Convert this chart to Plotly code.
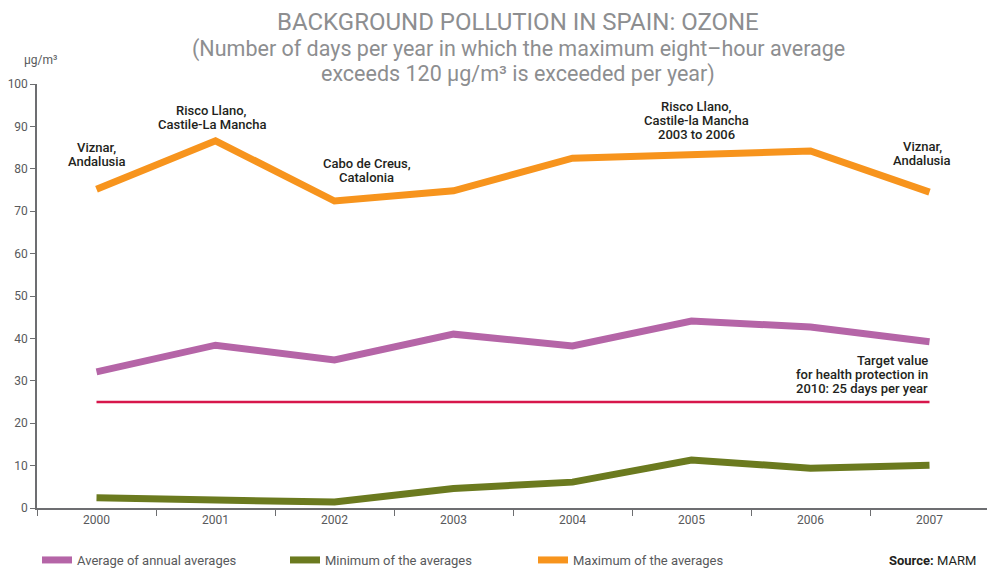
import plotly.graph_objects as go

years = [2000, 2001, 2002, 2003, 2004, 2005, 2006, 2007]
avg_of_averages = [32.1, 38.4, 34.9, 41.0, 38.2, 44.1, 42.7, 39.2]
min_of_averages = [2.4, 1.9, 1.4, 4.6, 6.1, 11.3, 9.4, 10.1]
max_of_averages = [75.2, 86.6, 72.4, 74.8, 82.5, 83.3, 84.2, 74.5]
target_value = 25
y_ticks = [0, 10, 20, 30, 40, 50, 60, 70, 80, 90, 100]

FONT = "Roboto"
AX = "#6d6e71"
TXT = "#231f20"
GREY = "#58595b"

# page body has an 8px margin: the figure is placed at (8, 8)
OFF = 8
W, H = 995 - OFF, 568 - OFF
L, R, T, B = 37 - OFF, 6, 84 - OFF, 568 - 508
pw, ph = W - L - R, H - T - B
def px(xr):
    return (xr - OFF - L) / pw
def py(yr):
    return (H - B - (yr - OFF)) / ph

fig = go.Figure()
fig.add_trace(go.Scatter(x=years, y=avg_of_averages, mode="lines",
                         name="Average of annual averages",
                         line=dict(color="#b565a7", width=7)))
fig.add_trace(go.Scatter(x=years, y=min_of_averages, mode="lines",
                         name="Minimum of the averages",
                         line=dict(color="#6b7a1f", width=7)))
fig.add_trace(go.Scatter(x=years, y=max_of_averages, mode="lines",
                         name="Maximum of the averages",
                         line=dict(color="#f7941d", width=7)))
fig.add_trace(go.Scatter(x=[years[0], years[-1]], y=[target_value, target_value],
                         mode="lines", showlegend=False,
                         line=dict(color="#d7164b", width=2.5)))

ann_font = dict(family=FONT, size=13, color=TXT, weight=500)
LINE_H = 14

def multiline(x, y, lines, xanchor="center"):
    n = len(lines)
    for i, s in enumerate(lines):
        shift = ((n - 1) / 2 - i) * LINE_H
        fig.add_annotation(x=x, y=y, text=s, showarrow=False, xref="x", yref="y",
                           xanchor=xanchor, yanchor="middle", yshift=shift, font=ann_font)

multiline(2000.0, 83.3, ["Viznar,", "Andalusia"])
multiline(2000.97, 92.2, ["Risco Llano,", "Castile-La Mancha"])
multiline(2002.27, 79.5, ["Cabo de Creus,", "Catalonia"])
multiline(2005.04, 91.3, ["Risco Llano,", "Castile-la Mancha", "2003 to 2006"])
multiline(2006.94, 83.7, ["Viznar,", "Andalusia"])
multiline(2007.0, 31.6, ["Target value", "for health protection in", "2010: 25 days per year"],
          xanchor="right")

def paper_text(xr, yr, text, font, xanchor="center"):
    fig.add_annotation(x=px(xr), y=py(yr), xref="paper", yref="paper", text=text,
                       showarrow=False, xanchor=xanchor, yanchor="middle", font=font)

title_font = dict(family=FONT, size=24, color="#8d8e90")
sub_font = dict(family=FONT, size=21.5, color="#8d8e90")
paper_text(518, 22, "BACKGROUND POLLUTION IN SPAIN: OZONE", title_font)
paper_text(518, 49, "(Number of days per year in which the maximum eight–hour average", sub_font)
paper_text(518, 74, "exceeds 120 µg/m³ is exceeded per year)", sub_font)
paper_text(40, 60, "µg/m³", dict(family=FONT, size=12, color=GREY))
paper_text(978, 560, "<b>Source:</b> MARM", dict(family=FONT, size=13, color=TXT), xanchor="right")

fig.update_layout(
    width=W, height=H,
    margin=dict(l=L, r=R, t=T, b=B, autoexpand=False),
    paper_bgcolor="white", plot_bgcolor="white",
    font=dict(family=FONT, size=12, color=GREY),
    showlegend=True,
    legend=dict(orientation="h", x=px(37), y=py(560), xanchor="left", yanchor="middle",
                font=dict(family=FONT, size=13, color=GREY),
                entrywidth=203, bgcolor="rgba(0,0,0,0)"),
    xaxis=dict(range=[1999.5, 2007.5], tickvals=years, ticktext=[str(y) for y in years],
               ticks="", showgrid=False, zeroline=False, showline=True, linecolor=AX, linewidth=1.5,
               tickfont=dict(size=12, color=GREY),
               minor=dict(tickvals=[y - 0.5 for y in years] + [2007.5], ticks="outside",
                          ticklen=6, tickcolor=AX, tickwidth=1, showgrid=False)),
    yaxis=dict(range=[0, 100], tickvals=y_ticks, ticks="outside", ticklen=5, tickcolor=AX,
               showgrid=False, zeroline=False, showline=True, linecolor=AX, linewidth=1.5,
               tickfont=dict(size=12, color=GREY)),
)

fig.write_html("out.html")
